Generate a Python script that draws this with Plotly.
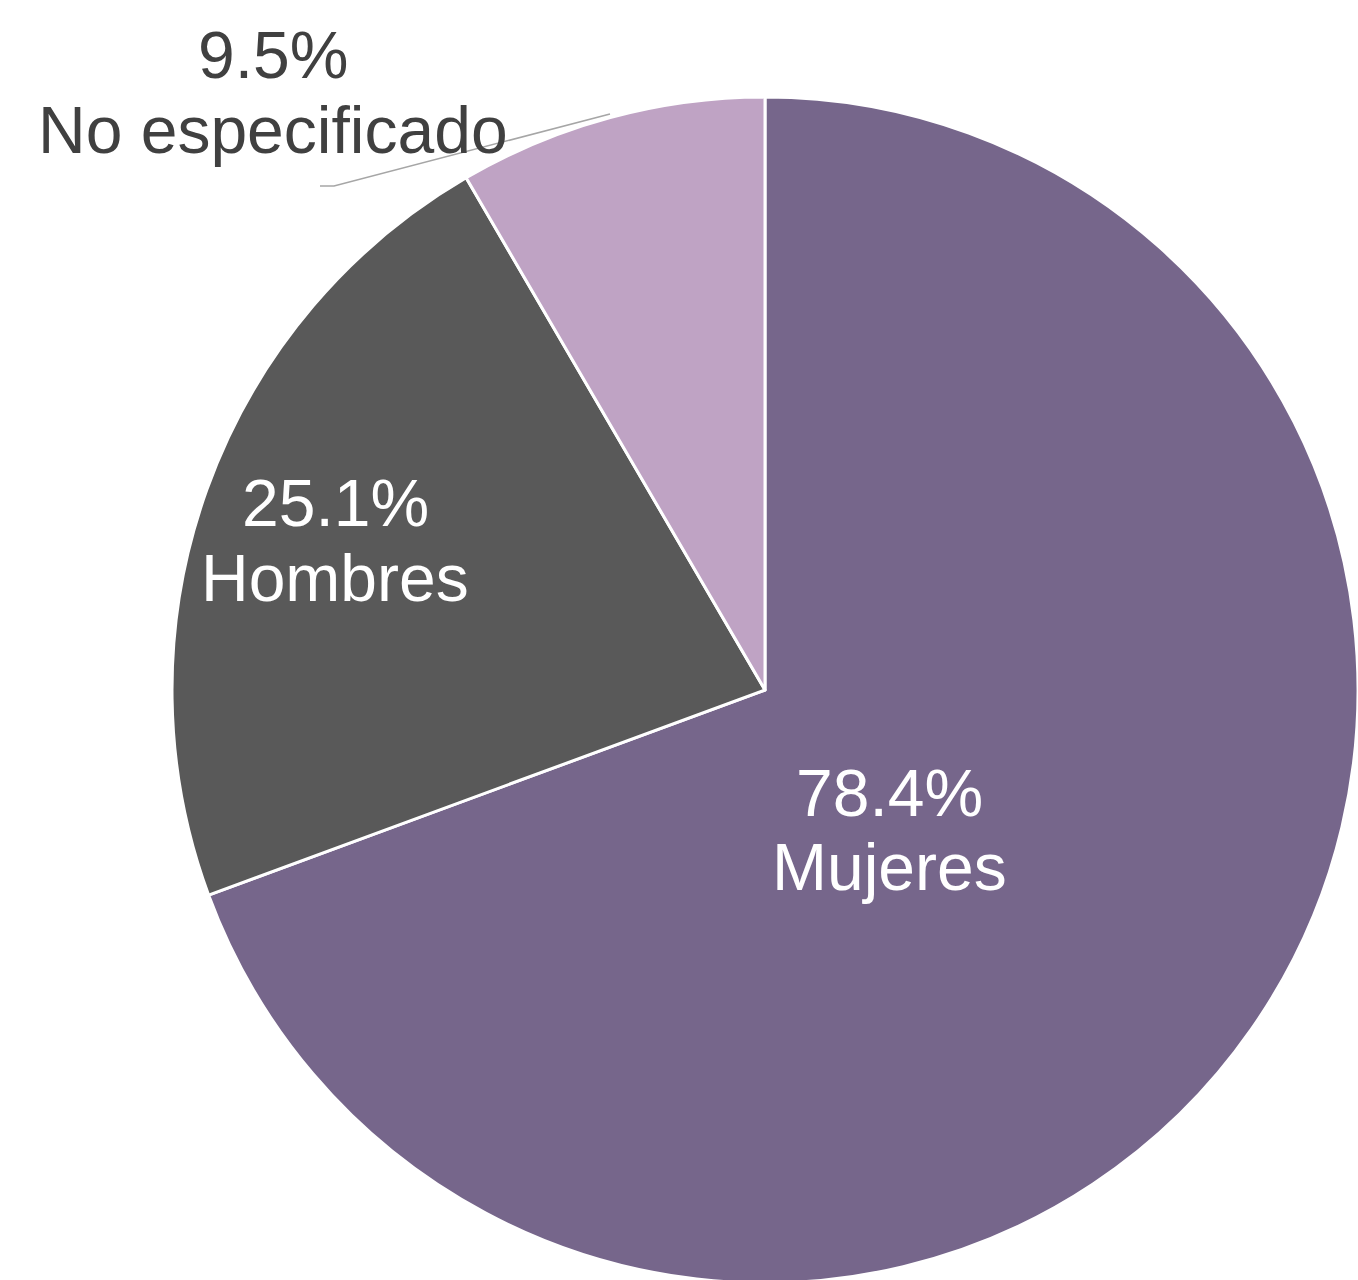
import plotly.graph_objects as go

# Data
categories = ["Mujeres", "Hombres", "No especificado"]
values = [78.4, 25.1, 9.5]
colors = ["#76668B", "#595959", "#BFA3C4"]

W, H = 1358, 1284

fig = go.Figure(
    go.Pie(
        labels=categories,
        values=values,
        sort=False,
        direction="clockwise",
        rotation=0,
        textinfo="none",
        marker=dict(colors=colors, line=dict(color="white", width=3)),
        showlegend=False,
        hoverinfo="label+value",
        domain=dict(x=[172 / W, 1.0], y=[0, (H - 96) / H]),
    )
)

# label placement (pixel centres of each text line) -- layout, not data
label_pos = {
    "Mujeres": (889, 793, 867, "white"),
    "Hombres": (335, 503, 578, "white"),
    "No especificado": (273, 55, 130, "#404040"),
}

font_family = "Liberation Sans, Arial, sans-serif"
annotations = []
for cat, val in zip(categories, values):
    x, y1, y2, col = label_pos[cat]
    for txt, yy in ((f"{val}%", y1), (cat, y2)):
        annotations.append(
            dict(
                x=x / W, y=1 - yy / H, xref="paper", yref="paper",
                text=txt, showarrow=False, xanchor="center", yanchor="middle",
                font=dict(family=font_family, size=66, color=col),
            )
        )

# leader line for the outside label
shapes = [
    dict(
        type="path", xref="paper", yref="paper",
        path=f"M {320 / W},{1 - 186 / H} L {334 / W},{1 - 186 / H} L {610 / W},{1 - 114 / H}",
        line=dict(color="#A6A6A6", width=1.5),
    )
]

fig.update_layout(
    width=W, height=H,
    margin=dict(l=0, r=0, t=0, b=0),
    paper_bgcolor="white",
    plot_bgcolor="white",
    annotations=annotations,
    shapes=shapes,
)

fig.write_html(
    "out.html",
    config={"displayModeBar": False},
    post_script="document.documentElement.style.overflow='hidden';"
                "document.body.style.margin='0';document.body.style.overflow='hidden';",
)
